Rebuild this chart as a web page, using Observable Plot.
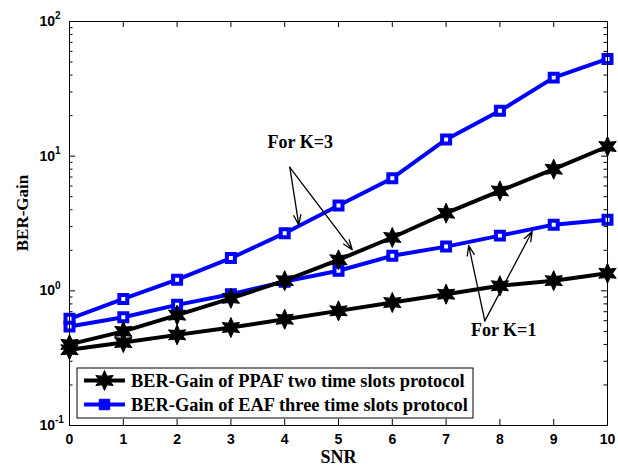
<!DOCTYPE html>
<html>
<head>
<meta charset="utf-8">
<script src="https://cdn.jsdelivr.net/npm/d3@7"></script>
<script src="https://cdn.jsdelivr.net/npm/@observablehq/plot@0.6"></script>
<style>
  html, body { margin: 0; padding: 0; background: #fff; }
  #chart { position: relative; width: 618px; height: 466px; overflow: hidden; }
  #chart svg { display: block; }
  #legend { position: absolute; left: 0; top: 0; pointer-events: none; }
</style>
</head>
<body>
<div id="chart"></div>
<script>
// ---- data ----
const snr = [0, 1, 2, 3, 4, 5, 6, 7, 8, 9, 10];
const ppafK3 = [0.40, 0.50, 0.66, 0.88, 1.19, 1.70, 2.49, 3.77, 5.52, 8.0, 11.8];
const eafK3  = [0.62, 0.87, 1.21, 1.75, 2.68, 4.30, 6.86, 13.3, 21.7, 38.3, 52.7];
const ppafK1 = [0.365, 0.413, 0.471, 0.534, 0.615, 0.71, 0.819, 0.944, 1.09, 1.19, 1.35];
const eafK1  = [0.543, 0.637, 0.787, 0.944, 1.17, 1.41, 1.82, 2.13, 2.57, 3.10, 3.37];

const xTicks = [0, 1, 2, 3, 4, 5, 6, 7, 8, 9, 10];
const yMajor = [0.1, 1, 10, 100];
const yExponents = ["-1", "0", "1", "2"];
const yMinor = [0.1, 1, 10].flatMap(d => [2, 3, 4, 5, 6, 7, 8, 9].map(k => +(d * k).toPrecision(3)));

const seriesNames = ["BER-Gain of PPAF two time slots protocol", "BER-Gain of EAF three time slots protocol"];
const xLabel = "SNR";
const yLabel = "BER-Gain";

const annotTexts = [
  {label: "For K=3", x: 4.29, y: 12.6},
  {label: "For K=1", x: 8.07, y: 0.51}
];
const annotArrows = [
  {x1: 4.095, y1: 8.27, x2: 4.262, y2: 3.09},
  {x1: 4.095, y1: 8.27, x2: 5.255, y2: 2.02},
  {x1: 7.72, y1: 0.598, x2: 7.42, y2: 2.17},
  {x1: 7.72, y1: 0.598, x2: 8.60, y2: 2.76}
];

// ---- style ----
const BLUE = "#0000ff";
const SERIF = "'Liberation Serif', 'Times New Roman', serif";
const SANS = "'Liberation Sans', Arial, sans-serif";

const W = 618, H = 466;
const mL = 69, mR = 11, mT = 21, mB = 41;
const plotW = W - mL - mR, plotH = H - mT - mB;

const hexagram = {
  draw(context, size) {
    const R = Math.sqrt(size / Math.PI);
    const r = R * 0.5;
    for (let i = 0; i < 12; i++) {
      const a = Math.PI * i / 6;
      const rad = i % 2 === 0 ? R : r;
      const x = rad * Math.sin(a), y = -rad * Math.cos(a);
      if (i === 0) context.moveTo(x, y); else context.lineTo(x, y);
    }
    context.closePath();
  }
};

const toRows = vals => snr.map((x, i) => ({x, y: vals[i]}));
const rPpafK3 = toRows(ppafK3), rEafK3 = toRows(eafK3), rPpafK1 = toRows(ppafK1), rEafK1 = toRows(eafK1);

const chart = Plot.plot({
  width: W, height: H,
  marginLeft: mL, marginRight: mR, marginTop: mT, marginBottom: mB,
  style: {background: "#fff", overflow: "visible", fontFamily: SANS},
  x: {domain: [0, 10], axis: null},
  y: {type: "log", domain: [0.1, 100], axis: null},
  marks: [
    // ticks (inward, MATLAB style)
    Plot.tickX(xTicks, {x: d => d, insetBottom: plotH - 6, stroke: "#000"}),
    Plot.tickX(xTicks, {x: d => d, insetTop: plotH - 6, stroke: "#000"}),
    Plot.tickY(yMajor, {y: d => d, insetRight: plotW - 6, stroke: "#000"}),
    Plot.tickY(yMajor, {y: d => d, insetLeft: plotW - 6, stroke: "#000"}),
    Plot.tickY(yMinor, {y: d => d, insetRight: plotW - 3.5, stroke: "#000"}),
    Plot.tickY(yMinor, {y: d => d, insetLeft: plotW - 3.5, stroke: "#000"}),
    // axes labels
    Plot.axisX(xTicks, {tickSize: 0, tickPadding: 9, fontSize: 14, fontWeight: "bold", fill: "#000", label: null, fontFamily: SANS}),
    Plot.text(yMajor, {y: d => d, text: () => "10", frameAnchor: "left", textAnchor: "start", lineAnchor: "middle", dx: -30, fontSize: 14, fontWeight: "bold", fill: "#000", fontFamily: SANS}),
    Plot.text(yMajor, {y: d => d, text: (d, i) => yExponents[i], frameAnchor: "left", textAnchor: "start", lineAnchor: "middle", dx: -14.5, dy: -5.5, fontSize: 10, fontWeight: "bold", fill: "#000", fontFamily: SANS}),
    Plot.text([xLabel], {text: d => d, frameAnchor: "bottom", textAnchor: "middle", lineAnchor: "middle", dy: 31.5, fontSize: 18, fontWeight: "bold", fill: "#000", fontFamily: SERIF}),
    Plot.text([yLabel], {text: d => d, frameAnchor: "left", textAnchor: "middle", lineAnchor: "middle", rotate: -90, dx: -46.5, dy: -10.5, fontSize: 17, fontWeight: "bold", fill: "#000", fontFamily: SERIF}),
    // series
    Plot.line(rEafK1, {x: "x", y: "y", stroke: BLUE, strokeWidth: 4}),
    Plot.dot(rEafK1, {x: "x", y: "y", symbol: "square", r: 4.5, stroke: BLUE, strokeWidth: 4, fill: "#fff"}),
    Plot.line(rEafK3, {x: "x", y: "y", stroke: BLUE, strokeWidth: 4}),
    Plot.dot(rEafK3, {x: "x", y: "y", symbol: "square", r: 4.5, stroke: BLUE, strokeWidth: 4, fill: "#fff"}),
    Plot.line(rPpafK1, {x: "x", y: "y", stroke: "#000", strokeWidth: 4}),
    Plot.dot(rPpafK1, {x: "x", y: "y", symbol: hexagram, r: 10, fill: "#000", stroke: "#000", strokeWidth: 1}),
    Plot.line(rPpafK3, {x: "x", y: "y", stroke: "#000", strokeWidth: 4}),
    Plot.dot(rPpafK3, {x: "x", y: "y", symbol: hexagram, r: 10, fill: "#000", stroke: "#000", strokeWidth: 1}),
    // annotations
    Plot.arrow(annotArrows, {x1: "x1", y1: "y1", x2: "x2", y2: "y2", stroke: "#000", strokeWidth: 1.3, headLength: 12, headAngle: 40}),
    Plot.text(annotTexts, {x: "x", y: "y", text: "label", fontSize: 18, fontWeight: "bold", fill: "#000", fontFamily: SERIF}),
    Plot.frame({stroke: "#000", strokeWidth: 1})
  ]
});

const root = document.getElementById("chart");
root.appendChild(chart);

// ---- legend (overlay inside the axes, bottom-left) ----
const lg = d3.select(root).append("svg")
  .attr("id", "legend").attr("width", W).attr("height", H);
const box = {x: 77, y: 368, w: 396, h: 50};
lg.append("rect").attr("x", box.x).attr("y", box.y).attr("width", box.w).attr("height", box.h)
  .attr("fill", "#fff").attr("stroke", "#000").attr("stroke-width", 1);
const rows = [
  {name: seriesNames[0], color: "#000", marker: "star"},
  {name: seriesNames[1], color: BLUE, marker: "square"}
];
rows.forEach((r, i) => {
  const cy = box.y + 12.5 + i * 24;
  const g = lg.append("g");
  g.append("line").attr("x1", box.x + 7).attr("x2", box.x + 48).attr("y1", cy).attr("y2", cy)
    .attr("stroke", r.color).attr("stroke-width", 4);
  const sym = r.marker === "star" ? d3.symbol(hexagram, Math.PI * 100) : d3.symbol(d3.symbolSquare, 110);
  g.append("path").attr("d", sym()).attr("transform", `translate(${box.x + 27.5},${cy})`)
    .attr("fill", r.color).attr("stroke", r.color).attr("stroke-width", 1);
  g.append("text").attr("x", box.x + 54).attr("y", cy).attr("dy", "0.35em")
    .attr("font-family", SERIF).attr("font-weight", "bold").attr("font-size", 18.4)
    .attr("fill", "#000").text(r.name);
});
</script>
</body>
</html>
